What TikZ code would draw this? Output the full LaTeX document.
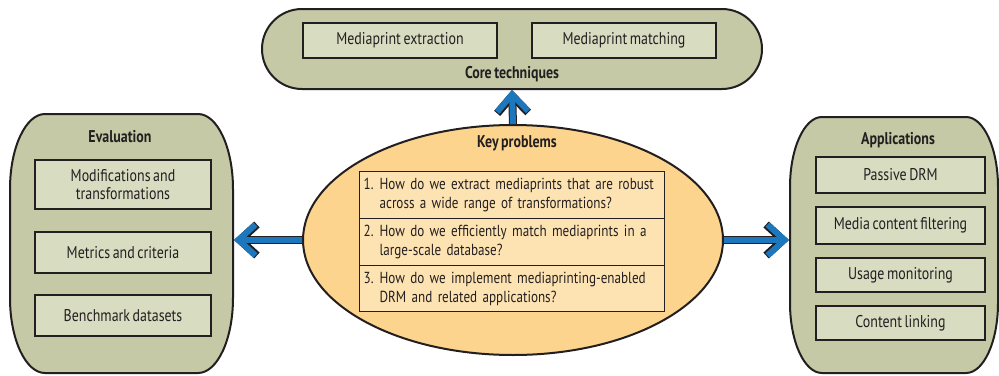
\documentclass[tikz,border=0pt]{standalone}
\usepackage{fontspec}
\setmainfont{PT Sans}[FakeStretch=0.82,WordSpace=0.7]
\usetikzlibrary{shapes.geometric,shapes.misc,arrows.meta}
\definecolor{olivefill}{HTML}{C5C9A5}
\definecolor{boxfill}{HTML}{D8DCC1}
\definecolor{ellfill}{HTML}{FCD48D}
\definecolor{kpfill}{HTML}{FDE3B2}
\definecolor{arrowblue}{HTML}{1C77BC}
\definecolor{ink}{HTML}{231F20}
\newcommand{\kpline}[2]{\mbox{\makebox[16pt][l]{#1}#2}}
\begin{document}
\begin{tikzpicture}[x=1pt,y=-1pt,
  container/.style={draw=ink, line width=2pt, fill=olivefill},
  itembox/.style={draw=ink, line width=1.2pt, fill=boxfill, inner sep=0pt, align=center,
    font=\fontsize{17}{19}\selectfont, text=ink},
  header/.style={font=\fontsize{17}{19}\selectfont\bfseries, text=ink, inner sep=0pt},
  kpitem/.style={draw=ink, line width=1.2pt, fill=kpfill, inner xsep=4pt, inner ysep=0pt,
    text width=297pt, align=left, anchor=north west, minimum width=305pt,
    font=\fontsize{16}{19}\selectfont, text=ink},
  bigarrow/.style={line width=6pt, draw=arrowblue, -{Straight Barb[length=17pt,width=31pt]},
    preaction={draw=ink, line width=8pt, -{Straight Barb[length=17pt,width=31pt]}}},
]
\useasboundingbox (0,0) rectangle (999,375);

% Core techniques container
\node[rounded rectangle, container, minimum width=500pt, minimum height=80pt, inner sep=0pt] (core) at (512,49) {};
\node[itembox, minimum width=194pt, minimum height=35pt] (ext) at (400,40.5) {Mediaprint extraction};
\node[itembox, minimum width=184pt, minimum height=35pt] (mat) at (624,40.5) {Mediaprint matching};
\node[header] (coreT) at (512,74) {Core techniques};

% Evaluation container
\path[container] (45,114) -- (198,114)
  arc[start angle=-90, end angle=0, x radius=35, y radius=75] -- (233,298)
  arc[start angle=0, end angle=90, x radius=35, y radius=75] -- (45,373)
  arc[start angle=90, end angle=180, x radius=35, y radius=75] -- (10,189)
  arc[start angle=180, end angle=270, x radius=35, y radius=75] -- cycle;
\coordinate (evalR) at (234,240);
\node[header] (evalT) at (120,137) {Evaluation};
\node[itembox, minimum width=176pt, minimum height=49pt] (e1) at (123,184.5) {Modifications and\\[-1pt]transformations};
\node[itembox, minimum width=176pt, minimum height=41pt] (e2) at (123,252.5) {Metrics and criteria};
\node[itembox, minimum width=176pt, minimum height=41pt] (e3) at (123,315.5) {Benchmark datasets};

% Applications container
\path[container] (822,117) -- (966,117)
  arc[start angle=-90, end angle=0, x radius=32, y radius=70] -- (998,303)
  arc[start angle=0, end angle=90, x radius=32, y radius=70] -- (822,373)
  arc[start angle=90, end angle=180, x radius=32, y radius=70] -- (790,187)
  arc[start angle=180, end angle=270, x radius=32, y radius=70] -- cycle;
\coordinate (appL) at (789,240);
\node[header] (appT) at (898,140) {Applications};
\node[itembox, minimum width=169pt, minimum height=36pt] (a1) at (900.5,175) {Passive DRM};
\node[itembox, minimum width=169pt, minimum height=37pt] (a2) at (900.5,225.5) {Media content filtering};
\node[itembox, minimum width=169pt, minimum height=34pt] (a3) at (900.5,275) {Usage monitoring};
\node[itembox, minimum width=169pt, minimum height=34pt] (a4) at (900.5,323) {Content linking};

% Key problems ellipse
\node[ellipse, draw=ink, line width=2pt, fill=ellfill, minimum width=420pt, minimum height=230pt, inner sep=0pt] (kp) at (513,240) {};
\node[header] (kpT) at (517,143) {Key problems};
\node[kpitem, minimum height=47pt] (q1) at (359,171) {\kpline{1.}{How do we extract mediaprints that are robust}\\\kpline{}{across a wide range of transformations?}};
\node[kpitem, minimum height=47pt] (q2) at (359,218) {\kpline{2.}{How do we efficiently match mediaprints in a}\\\kpline{}{large-scale database?}};
\node[kpitem, minimum height=46pt] (q3) at (359,265) {\kpline{3.}{How do we implement mediaprinting-enabled}\\\kpline{}{DRM and related applications?}};

% Arrows
\draw[bigarrow] (kp.north) -- (core.south);
\draw[bigarrow] (kp.west) -- (evalR);
\draw[bigarrow] (kp.east) -- (appL);
\end{tikzpicture}
\end{document}
